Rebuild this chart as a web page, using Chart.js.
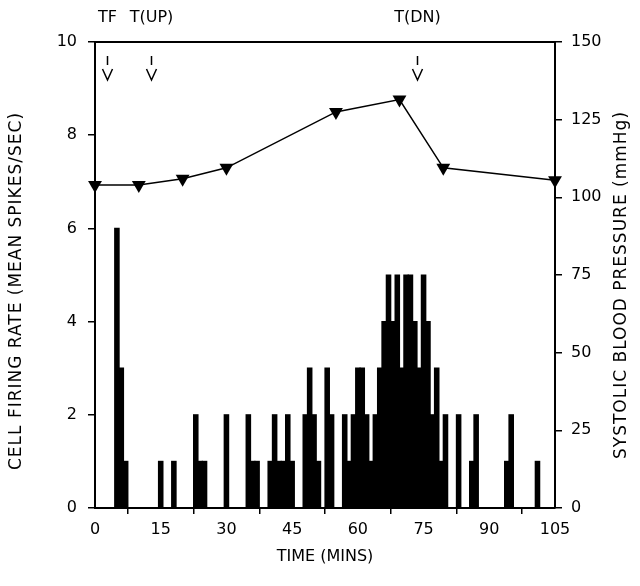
<!DOCTYPE html>
<html>
<head>
<meta charset="utf-8">
<script src="https://cdn.jsdelivr.net/npm/chart.js@4"></script>
<style>
  html, body { margin: 0; padding: 0; background: #fff; }
  #wrap { width: 640px; height: 586px; position: relative; }
</style>
</head>
<body>
<div id="wrap"><canvas id="myChart"></canvas></div>
<script>
// cell firing rate, one value per 1-minute bin (minute 0 .. 104)
const firingRate = [
  0, 0, 0, 0, 0, 6, 3, 1, 0, 0,   // 0-9
  0, 0, 0, 0, 0, 1, 0, 0, 1, 0,   // 10-19
  0, 0, 0, 2, 1, 1, 0, 0, 0, 0,   // 20-29
  2, 0, 0, 0, 0, 2, 1, 1, 0, 0,   // 30-39
  1, 2, 1, 1, 2, 1, 0, 0, 2, 3,   // 40-49
  2, 1, 0, 3, 2, 0, 0, 2, 1, 2,   // 50-59
  3, 3, 2, 1, 2, 3, 4, 5, 4, 5,   // 60-69
  3, 5, 5, 4, 3, 5, 4, 2, 3, 1,   // 70-79
  2, 0, 0, 2, 0, 0, 1, 2, 0, 0,   // 80-89
  0, 0, 0, 0, 1, 2, 0, 0, 0, 0,   // 90-99
  0, 1, 0, 0, 0                   // 100-104
];

// systolic blood pressure (mmHg)
const bpTimes = [0, 10, 20, 30, 55, 69.5, 79.5, 105];
const bpValues = [104, 104, 106, 109.5, 127.5, 131.5, 109.5, 105.5];

// event markers along the top
const eventLabels = ['TF', 'T(UP)', 'T(DN)'];
const eventTimes = [2.75, 12.75, 73.5];

const leftTitle = 'CELL FIRING RATE (MEAN SPIKES/SEC)';
const rightTitle = 'SYSTOLIC BLOOD PRESSURE (mmHg)';
const xTitle = 'TIME (MINS)';

const FONT_FAMILY = '"DejaVu Sans", sans-serif';
const FONT_SIZE = 16;

// top frame line, event arrows, rotated axis titles
const extras = {
  id: 'extras',
  afterDraw(chart) {
    const {ctx, chartArea: a, scales: {x}} = chart;
    ctx.save();
    ctx.strokeStyle = '#000';
    ctx.lineWidth = 2;
    ctx.beginPath();
    ctx.moveTo(a.left, a.top);
    ctx.lineTo(a.right, a.top);
    ctx.stroke();

    ctx.font = `${FONT_SIZE}px ${FONT_FAMILY}`;
    ctx.fillStyle = '#000';
    ctx.textAlign = 'center';
    ctx.textBaseline = 'middle';
    ctx.lineWidth = 1.5;
    eventTimes.forEach((t, i) => {
      const px = Math.round(x.getPixelForValue(t)) + 0.5;
      ctx.fillText(eventLabels[i], px, 18);
      ctx.beginPath();
      ctx.moveTo(px, 56);
      ctx.lineTo(px, 65);
      ctx.moveTo(px - 5, 69);
      ctx.lineTo(px, 80);
      ctx.lineTo(px + 5, 69);
      ctx.stroke();
    });

    // both side titles read bottom to top
    ctx.font = `17px ${FONT_FAMILY}`;
    ctx.letterSpacing = '1px';
    ctx.save();
    ctx.translate(17, 291);
    ctx.rotate(-Math.PI / 2);
    ctx.fillText(leftTitle, 0, 0);
    ctx.restore();

    ctx.save();
    ctx.translate(622, 285);
    ctx.rotate(-Math.PI / 2);
    ctx.fillText(rightTitle, 0, 0);
    ctx.restore();

    ctx.restore();
  }
};

const axisCommon = {
  grid: { display: true, drawOnChartArea: false, drawTicks: true, tickLength: 7, color: '#000', lineWidth: 1.5 },
  border: { display: true, color: '#000', width: 2 },
};

const ctxt = document.getElementById('myChart').getContext('2d');

const myChart = new Chart(ctxt, {
  data: {
    datasets: [
      {
        type: 'line',
        data: bpTimes.map((t, i) => ({ x: t, y: bpValues[i] })),
        xAxisID: 'x',
        yAxisID: 'y1',
        borderColor: '#000',
        borderWidth: 1.5,
        pointStyle: 'triangle',
        rotation: 180,
        pointRadius: 8,
        pointBackgroundColor: '#000',
        pointBorderColor: '#000',
        pointBorderWidth: 0,
        tension: 0,
        clip: false,
        order: 0
      },
      {
        type: 'bar',
        data: firingRate.map((v, m) => ({ x: m, y: v })),
        xAxisID: 'x',
        yAxisID: 'y',
        backgroundColor: '#000',
        borderWidth: 0,
        barPercentage: 1,
        categoryPercentage: 1,
        inflateAmount: 0.6,
        order: 1
      }
    ]
  },
  options: {
    responsive: true,
    maintainAspectRatio: false,
    animation: false,
    layout: { padding: { top: 42, left: 0, right: 0, bottom: 0 } },
    plugins: { legend: { display: false }, tooltip: { enabled: false } },
    font: { family: FONT_FAMILY, size: FONT_SIZE },
    scales: {
      x: {
        type: 'linear',
        position: 'bottom',
        min: 0,
        max: 105,
        offset: false,
        ...axisCommon,
        grid: { ...axisCommon.grid, tickLength: 6 },
        ticks: { stepSize: 15, color: '#000', padding: 6, maxRotation: 0,
                 font: { family: FONT_FAMILY, size: FONT_SIZE } },
        title: { display: true, text: xTitle, color: '#000',
                 font: { family: FONT_FAMILY, size: FONT_SIZE },
                 padding: { top: 4, bottom: 20 } },
        afterFit: (scale) => { scale.height = 78; }
      },
      y: {
        type: 'linear',
        position: 'left',
        min: 0,
        max: 10,
        ...axisCommon,
        ticks: { stepSize: 2, color: '#000', padding: 11,
                 font: { family: FONT_FAMILY, size: FONT_SIZE } },
        afterFit: (scale) => { scale.width = 95; }
      },
      y1: {
        type: 'linear',
        position: 'right',
        min: 0,
        max: 150,
        ...axisCommon,
        ticks: { stepSize: 25, color: '#000', padding: 9,
                 font: { family: FONT_FAMILY, size: FONT_SIZE } },
        afterFit: (scale) => { scale.width = 85; }
      }
    }
  },
  plugins: [extras]
});
</script>
</body>
</html>
